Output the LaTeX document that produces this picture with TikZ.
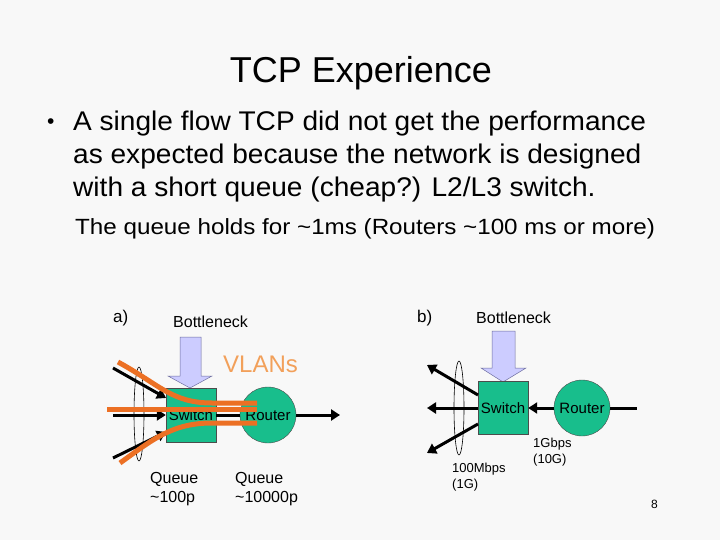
\documentclass[tikz,border=0pt]{standalone}
\usepackage{fontspec}
\setmainfont{Liberation Sans}
\usetikzlibrary{arrows.meta}
\definecolor{slidebg}{RGB}{248,248,248}
\definecolor{netgreen}{RGB}{24,190,140}
\definecolor{vlanorange}{RGB}{236,112,36}
\definecolor{vlantext}{RGB}{242,160,90}
\definecolor{bneckfill}{RGB}{204,204,255}
\definecolor{bneckline}{RGB}{110,110,160}
\begin{document}
\begin{tikzpicture}[x=1pt,y=-1pt,
  txt/.style={anchor=base west,inner sep=0pt,font=\fontsize{16}{16}\selectfont},
  small/.style={anchor=north west,inner sep=0pt,align=left,font=\fontsize{13}{16}\selectfont},
  swbox/.style={draw=black!70,fill=netgreen,minimum width=50pt,minimum height=54pt,inner sep=0pt,font=\fontsize{15}{15}\selectfont},
  rtcirc/.style={circle,draw=black!70,fill=netgreen,minimum size=56pt,inner sep=0pt,font=\fontsize{15}{15}\selectfont},
  flow/.style={line width=3pt,-{Triangle[length=9pt,width=11pt]}},
  vlan/.style={line width=5pt,vlanorange},
  bneck/.style={draw=bneckline,fill=bneckfill,line width=0.5pt},
  bundle/.style={draw,line width=0.6pt}]
  \fill[slidebg] (0,0) rectangle (720,540);
  \useasboundingbox (0,0) rectangle (720,540);

  % slide text
  \node[anchor=base,inner sep=0pt,font=\fontsize{36}{36}\selectfont] (title) at (361,83) {TCP Experience};
  \node[anchor=base west,inner sep=0pt,font=\fontsize{21}{21}\selectfont] (dot) at (47,129) {•};
  \node[anchor=north west,inner sep=0pt,align=left,font=\fontsize{27}{33}\selectfont\addfontfeature{FakeStretch=1.04}] (point) at (73,111)
    {A single flow TCP did not get the performance\\
     as expected because the network is designed\\
     with a short queue (cheap?) L2/L3 switch.};
  \node[anchor=base west,inner sep=0pt,font=\fontsize{22}{22}\selectfont\addfontfeature{FakeStretch=1.1}] (note) at (75,234)
    {The queue holds for \textasciitilde1ms (Routers \textasciitilde100 ms or more)};

  % a) switch in front of the router
  \node[txt,font=\fontsize{17}{17}\selectfont] (a-lbl) at (113,322) {a)};
  \node[txt] (a-bn) at (173,327) {Bottleneck};
  \node[txt,font=\fontsize{24}{24}\selectfont,text=vlantext] (vlans) at (223,372) {VLANs};
  \draw[bneck] (180,337) -- (201,337) -- (201,376) -- (212,376) -- (190,388)
    -- (168,376) -- (180,376) -- cycle;
  \node[swbox] (a-sw) at (191,415) {Switch};
  \node[rtcirc] (a-rt) at (268,415) {Router};
  \coordinate (a-in1) at (113,368);
  \coordinate (a-in2) at (113,415);
  \coordinate (a-in3) at (113,458);
  \coordinate (a-out) at (340,415);
  \draw[line width=3pt] (a-sw) -- (a-rt);
  \draw[flow] (a-rt) -- (a-out);
  \draw[flow] (a-in1) -- (166,398);
  \draw[flow] (a-in2) -- (a-sw);
  \draw[flow] (a-in3) -- (166,432);
  \draw[bundle] (139,414) ellipse (5 and 47);
  \draw[vlan] (118,362) .. controls (160,385) and (172,403) .. (212,403) -- (257,403);
  \draw[vlan] (107,409) -- (257,409);
  \draw[vlan] (120,463) .. controls (152,440) and (172,423) .. (212,423) -- (257,423);
  \node[small,font=\fontsize{16}{19}\selectfont] (a-q1) at (150,472.5) {Queue\\\textasciitilde100p};
  \node[small,font=\fontsize{16}{19}\selectfont] (a-q2) at (235,472.5) {Queue\\\textasciitilde10000p};

  % b) router feeding the switch
  \node[txt,font=\fontsize{17}{17}\selectfont] (b-lbl) at (417,322) {b)};
  \node[txt] (b-bn) at (476,323) {Bottleneck};
  \draw[bneck] (492,331) -- (515,331) -- (515,368) -- (526,368) -- (503,382)
    -- (481,368) -- (492,368) -- cycle;
  \node[swbox,minimum height=53pt] (b-sw) at (503,408) {Switch};
  \node[rtcirc] (b-rt) at (582,408) {Router};
  \coordinate (b-in) at (637,408);
  \coordinate (b-out1) at (427,365);
  \coordinate (b-out2) at (427,408);
  \coordinate (b-out3) at (427,453);
  \draw[line width=3pt] (b-rt) -- (b-in);
  \draw[flow] (b-rt) -- (b-sw);
  \draw[flow] (478,395) -- (b-out1);
  \draw[flow] (b-sw) -- (b-out2);
  \draw[flow] (478,424) -- (b-out3);
  \draw[bundle] (459,408) ellipse (5 and 47);
  \node[small] (b-up) at (533,437.5) {1Gbps\\(10G)};
  \node[small] (b-down) at (452,462.5) {100Mbps\\(1G)};

  \node[anchor=base west,inner sep=0pt,font=\fontsize{12}{12}\selectfont] (page) at (651,508) {8};
\end{tikzpicture}
\end{document}
